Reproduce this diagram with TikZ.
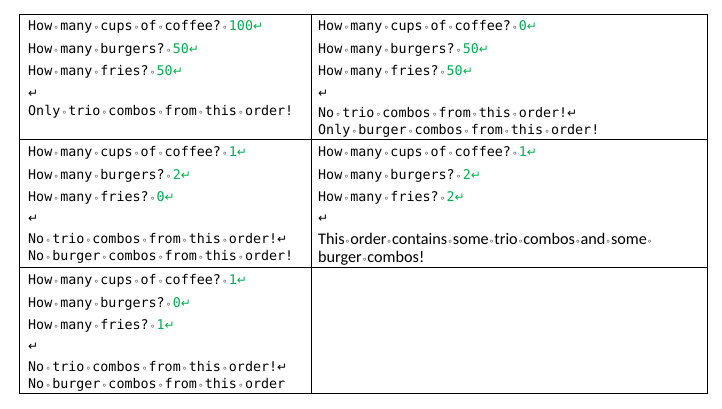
\documentclass[tikz,border=0pt]{standalone}
\usepackage{fontspec}
\setmainfont{Carlito}
\setmonofont{DejaVu Sans Mono}
\newfontfamily\djs{DejaVu Sans}
\definecolor{wgreen}{RGB}{0,176,80}
\definecolor{mark}{RGB}{90,90,90}
\newcommand{\wsp}{{\djs\fontsize{9}{9}\selectfont\textcolor{mark}{∘}}}
\newcommand{\spw}{\makebox[8pt]{\wsp}}
\newcommand{\rt}{{\djs\fontsize{12}{12}\selectfont ↵}}
\newcommand{\grt}{\textcolor{wgreen}{\rt}}
\newcommand{\gn}[1]{\textcolor{wgreen}{#1}}
\begin{document}
\begin{tikzpicture}[x=1pt,y=-1pt,
  mono/.style={anchor=west,inner sep=0pt,font=\ttfamily\fontsize{13.35}{14}\selectfont},
  prop/.style={anchor=west,inner sep=0pt,font=\fontsize{16.2}{16}\selectfont},
  cellline/.style={line width=0.9pt}]
\useasboundingbox (0,0) rectangle (722,409);
\fill[white] (0,0) rectangle (722,409);
\draw[cellline] (19,14) rectangle (707,393);
\draw[cellline] (311,14) -- (311,393);
\draw[cellline] (19,139) -- (707,139);
\draw[cellline] (19,267) -- (707,267);
% row 1 left
\node[mono] (a1) at (28,27) {How\spw many\spw cups\spw of\spw coffee?\spw\gn{100}\grt};
\node[mono] (a2) at (28,50) {How\spw many\spw burgers?\spw\gn{50}\grt};
\node[mono] (a3) at (28,72) {How\spw many\spw fries?\spw\gn{50}\grt};
\node[mono] (a4) at (28,94) {\rt};
\node[mono] (a5) at (28,112) {Only\spw trio\spw combos\spw from\spw this\spw order!};
% row 1 right
\node[mono] (b1) at (318,27) {How\spw many\spw cups\spw of\spw coffee?\spw\gn{0}\grt};
\node[mono] (b2) at (318,50) {How\spw many\spw burgers?\spw\gn{50}\grt};
\node[mono] (b3) at (318,72) {How\spw many\spw fries?\spw\gn{50}\grt};
\node[mono] (b4) at (318,94) {\rt};
\node[mono] (b5) at (318,113) {No\spw trio\spw combos\spw from\spw this\spw order!\rt};
\node[mono] (b6) at (318,131) {Only\spw burger\spw combos\spw from\spw this\spw order!};
% row 2 left
\node[mono] (c1) at (28,153) {How\spw many\spw cups\spw of\spw coffee?\spw\gn{1}\grt};
\node[mono] (c2) at (28,176) {How\spw many\spw burgers?\spw\gn{2}\grt};
\node[mono] (c3) at (28,198) {How\spw many\spw fries?\spw\gn{0}\grt};
\node[mono] (c4) at (28,219) {\rt};
\node[mono] (c5) at (28,239) {No\spw trio\spw combos\spw from\spw this\spw order!\rt};
\node[mono] (c6) at (28,257) {No\spw burger\spw combos\spw from\spw this\spw order!};
% row 2 right
\node[mono] (d1) at (318,153) {How\spw many\spw cups\spw of\spw coffee?\spw\gn{1}\grt};
\node[mono] (d2) at (318,176) {How\spw many\spw burgers?\spw\gn{2}\grt};
\node[mono] (d3) at (318,198) {How\spw many\spw fries?\spw\gn{2}\grt};
\node[mono] (d4) at (318,219) {\rt};
\node[prop] (d5) at (318,239) {This\wsp order\wsp contains\wsp some\wsp trio\wsp combos\wsp and\wsp some\wsp};
\node[prop] (d6) at (318,258) {burger\wsp combos!};
% row 3 left
\node[mono] (e1) at (28,281) {How\spw many\spw cups\spw of\spw coffee?\spw\gn{1}\grt};
\node[mono] (e2) at (28,304) {How\spw many\spw burgers?\spw\gn{0}\grt};
\node[mono] (e3) at (28,326) {How\spw many\spw fries?\spw\gn{1}\grt};
\node[mono] (e4) at (28,347) {\rt};
\node[mono] (e5) at (28,367) {No\spw trio\spw combos\spw from\spw this\spw order!\rt};
\node[mono] (e6) at (28,385) {No\spw burger\spw combos\spw from\spw this\spw order};
\end{tikzpicture}
\end{document}
